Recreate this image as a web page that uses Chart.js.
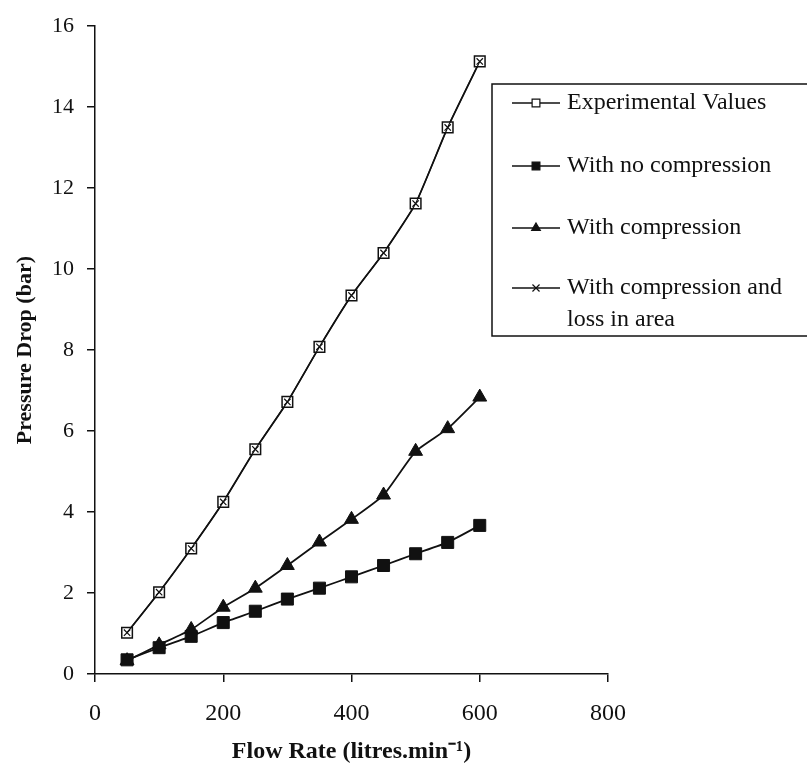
<!DOCTYPE html>
<html>
<head>
<meta charset="utf-8">
<title>Pressure Drop vs Flow Rate</title>
<script src="https://cdn.jsdelivr.net/npm/chart.js@4.4.1/dist/chart.umd.min.js"></script>
<style>
  html, body { margin: 0; padding: 0; background: #fff; }
  #wrap { position: relative; width: 807px; height: 774px; }
</style>
</head>
<body>
<div id="wrap"><canvas id="chart"></canvas></div>
<script>
// Flow rate (litres/min) and measured / predicted pressure drop (bar)
const flowRate = [50, 100, 150, 200, 250, 300, 350, 400, 450, 500, 550, 600];
const experimental = [1.02, 2.02, 3.10, 4.25, 5.55, 6.72, 8.08, 9.35, 10.40, 11.62, 13.50, 15.13];
const noCompression = [0.35, 0.65, 0.93, 1.27, 1.55, 1.85, 2.12, 2.40, 2.68, 2.97, 3.25, 3.67];
const withCompression = [0.33, 0.72, 1.10, 1.65, 2.12, 2.68, 3.26, 3.82, 4.42, 5.50, 6.06, 6.84];
const compressionAreaLoss = [1.02, 2.02, 3.10, 4.25, 5.55, 6.72, 8.08, 9.35, 10.40, 11.62, 13.50, 15.13];

const xTicks = [0, 200, 400, 600, 800];
const yTicks = [0, 2, 4, 6, 8, 10, 12, 14, 16];

const seriesNames = [
  'Experimental Values',
  'With no compression',
  'With compression',
  'With compression and loss in area'
];

const toPoints = (ys) => flowRate.map((x, i) => ({ x: x, y: ys[i] }));

const SERIF = "'Liberation Serif', 'Times New Roman', serif";
const INK = '#111';

// Boxed legend drawn onto the canvas, sitting over the right side of the plot
const boxedLegend = {
  id: 'boxedLegend',
  afterDraw(chart) {
    const ctx = chart.ctx;
    const left = 492, top = 84, bottom = 336;
    ctx.save();
    ctx.strokeStyle = INK;
    ctx.lineWidth = 1.5;
    ctx.strokeRect(left, top, 400, bottom - top);

    const rows = [
      { ds: 0, y: 103, lines: ['Experimental Values'] },
      { ds: 1, y: 166, lines: ['With no compression'] },
      { ds: 2, y: 228, lines: ['With compression'] },
      { ds: 3, y: 288, lines: ['With compression and', 'loss in area'] }
    ];
    rows.forEach(r => {
      const d = chart.data.datasets[r.ds];
      ctx.strokeStyle = INK;
      ctx.lineWidth = 1.5;
      ctx.beginPath();
      ctx.moveTo(512, r.y);
      ctx.lineTo(560, r.y);
      ctx.stroke();
      ctx.fillStyle = d.pointBackgroundColor;
      ctx.strokeStyle = INK;
      ctx.lineWidth = 1.2;
      Chart.helpers.drawPoint(ctx, {
        pointStyle: d.pointStyle,
        radius: d.legendRadius,
        rotation: 0,
        borderWidth: 1.2
      }, 536, r.y);
      ctx.fillStyle = INK;
      ctx.font = '24px ' + SERIF;
      ctx.textBaseline = 'middle';
      ctx.textAlign = 'left';
      r.lines.forEach((t, k) => ctx.fillText(t, 567, r.y + k * 32));
    });
    ctx.restore();
  }
};

const white = {
  id: 'whiteBg',
  beforeDraw(chart) {
    const c = chart.ctx;
    c.save();
    c.fillStyle = '#fff';
    c.fillRect(0, 0, chart.width, chart.height);
    c.restore();
  }
};

new Chart(document.getElementById('chart'), {
  type: 'line',
  data: {
    datasets: [
      {
        label: seriesNames[0],
        data: toPoints(experimental),
        borderColor: INK, borderWidth: 1.8,
        pointStyle: 'rect', pointRadius: 7.5, legendRadius: 5.5,
        pointBackgroundColor: '#fff', pointBorderColor: INK, pointBorderWidth: 1.5,
        order: 3
      },
      {
        label: seriesNames[1],
        data: toPoints(noCompression),
        borderColor: INK, borderWidth: 1.8,
        pointStyle: 'rect', pointRadius: 8.5, legendRadius: 5.5,
        pointBackgroundColor: INK, pointBorderColor: INK, pointBorderWidth: 1,
        order: 2
      },
      {
        label: seriesNames[2],
        data: toPoints(withCompression),
        borderColor: INK, borderWidth: 1.8,
        pointStyle: 'triangle', pointRadius: 8, legendRadius: 5,
        pointBackgroundColor: INK, pointBorderColor: INK, pointBorderWidth: 1,
        order: 1
      },
      {
        label: seriesNames[3],
        data: toPoints(compressionAreaLoss),
        borderColor: INK, borderWidth: 1.2,
        pointStyle: 'crossRot', pointRadius: 4.5, legendRadius: 5,
        pointBackgroundColor: INK, pointBorderColor: INK, pointBorderWidth: 1.2,
        order: 0
      }
    ]
  },
  options: {
    responsive: true,
    maintainAspectRatio: false,
    animation: false,
    layout: { padding: { top: 21, right: 199, bottom: 8, left: 0 } },
    plugins: {
      legend: { display: false },
      tooltip: { enabled: false }
    },
    elements: { line: { tension: 0.15, fill: false } },
    scales: {
      x: {
        type: 'linear',
        min: xTicks[0],
        max: xTicks[xTicks.length - 1],
        afterBuildTicks: (s) => { s.ticks = xTicks.map(v => ({ value: v })); },
        afterFit: (s) => { s.height = 92; },
        ticks: { color: INK, font: { family: SERIF, size: 24 }, padding: 17, maxRotation: 0 },
        grid: { drawOnChartArea: false, drawTicks: true, tickLength: 8, color: INK, lineWidth: 1.5 },
        border: { display: true, color: INK, width: 1.5 },
        title: {
          display: true,
          text: 'Flow Rate (litres.min⁻¹)',
          color: INK,
          font: { family: SERIF, size: 24, weight: 'bold' },
          padding: { top: 4, bottom: 0 }
        }
      },
      y: {
        type: 'linear',
        min: yTicks[0],
        max: yTicks[yTicks.length - 1],
        afterBuildTicks: (s) => { s.ticks = yTicks.map(v => ({ value: v })); },
        afterFit: (s) => { s.width = 95; },
        ticks: { color: INK, font: { family: SERIF, size: 22 }, padding: 13 },
        grid: { drawOnChartArea: false, drawTicks: true, tickLength: 8, color: INK, lineWidth: 1.5 },
        border: { display: true, color: INK, width: 1.5 },
        title: {
          display: true,
          text: 'Pressure Drop (bar)',
          color: INK,
          font: { family: SERIF, size: 22, weight: 'bold' },
          padding: { top: 12, bottom: 4 }
        }
      }
    }
  },
  plugins: [white, boxedLegend]
});
</script>
</body>
</html>
